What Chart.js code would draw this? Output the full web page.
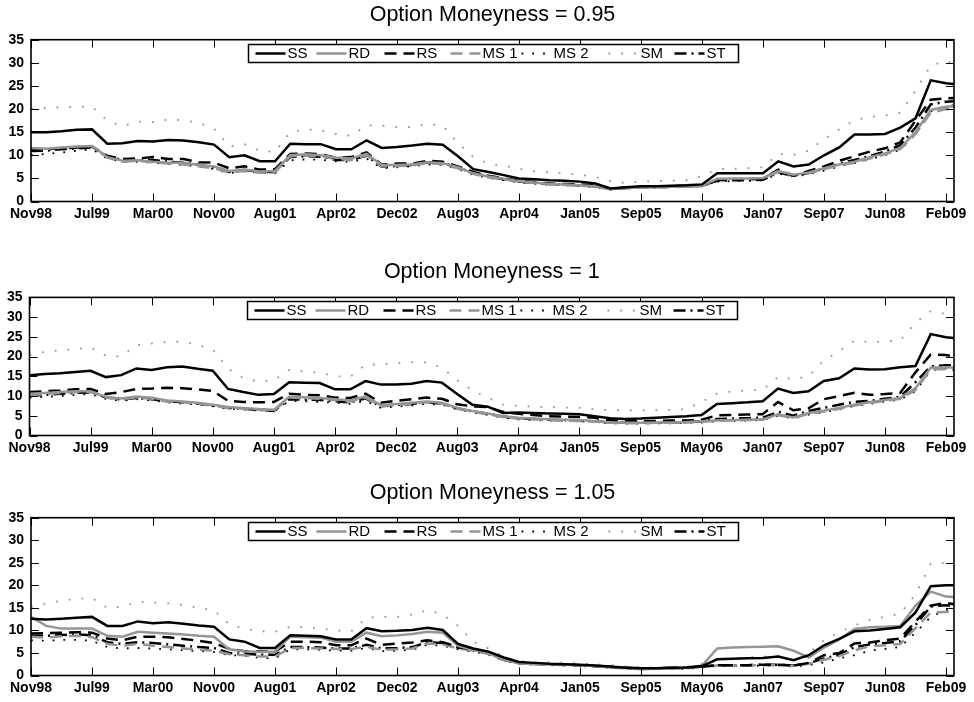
<!DOCTYPE html>
<html>
<head>
<meta charset="utf-8">
<title>Option Moneyness</title>
<script src="https://cdn.jsdelivr.net/npm/chart.js@4/dist/chart.umd.min.js"></script>
<style>
  html, body { margin: 0; padding: 0; background: #fff; }
  body { width: 974px; height: 702px; position: relative; overflow: hidden; }
  canvas { position: absolute; left: 0; }
</style>
</head>
<body>
<canvas id="p1" width="974" height="222" style="top:0px"></canvas>
<canvas id="p2" width="974" height="199" style="top:257px"></canvas>
<canvas id="p3" width="974" height="218" style="top:478px"></canvas>
<script>
// Observation days (trading-day index from Nov98), sampled every two months
const sampleDays = [0,42,84,126,168,210,252,294,336,378,420,462,504,546,588,630,672,714,756,798,
  840,882,924,966,1008,1050,1092,1134,1176,1218,1260,1302,1344,1386,1428,1470,1512,1554,1596,1638,
  1680,1722,1764,1806,1848,1890,1932,1974,2016,2058,2100,2142,2184,2226,2268,2310,2352,2394,2436,2478,
  2520,2542];
const tickDays = [0,168,336,504,672,840,1008,1176,1344,1512,1680,1848,2016,2184,2352,2520];
const tickLabels = ['Nov98','Jul99','Mar00','Nov00','Aug01','Apr02','Dec02','Aug03',
  'Apr04','Jan05','Sep05','May06','Jan07','Sep07','Jun08','Feb09'];
const yTicks = [0,5,10,15,20,25,30,35];
const seriesNames = ['SS','RD','RS','MS 1','MS 2','SM','ST'];

// Moneyness = 0.95
const ss095 = [15.0,15.0,15.2,15.5,15.6, 12.5,12.6,13.1,13.0, 13.3,13.2,12.8,12.3, 9.6,10.0,8.7,8.7, 12.5,12.4,12.4,11.3, 11.3,13.2,11.6,11.8, 12.1,12.5,12.3,9.8, 7.0,6.4,5.7,5.0, 4.8,4.6,4.5,4.3, 3.9,2.8,3.1,3.3, 3.3,3.4,3.5,3.7, 6.1,6.1,6.1,6.1, 8.7,7.6,8.0,10.0, 11.7,14.5,14.5,14.6, 16.0,18.0,26.2,25.6, 25.4];
const rd095 = [11.6,11.4,11.7,11.9,12.0, 9.6,8.8,8.9,8.6, 8.4,8.4,7.9,7.6, 6.6,6.9,6.5,6.6, 10.0,10.2,10.0,9.5, 9.3,10.3,7.9,7.9, 8.0,8.5,8.3,7.4, 6.1,5.4,4.9,4.4, 4.1,3.8,3.7,3.5, 3.3,2.7,2.9,3.1, 3.1,3.2,3.3,3.4, 4.9,5.0,5.0,5.1, 6.6,5.8,6.3,7.2, 8.0,8.6,9.6,10.4, 11.6,15.0,19.8,20.5, 20.6];
const rs095 = [11.2,11.3,11.5,11.7,11.9, 9.9,9.2,9.3,9.6, 9.2,9.2,8.5,8.4, 7.2,7.6,6.9,7.0, 10.3,10.4,10.2,9.5, 9.6,10.6,8.0,8.2, 8.2,8.8,8.6,7.6, 6.4,5.6,5.0,4.5, 4.2,3.9,3.8,3.7, 3.5,2.8,3.0,3.2, 3.2,3.3,3.4,3.5, 4.6,4.7,4.8,4.9, 6.9,5.6,6.6,7.6, 8.8,9.8,10.8,11.5, 12.8,17.5,22.0,22.3, 22.4];
const ms1095 = [11.4,11.3,11.6,11.8,11.9, 9.5,8.6,8.8,8.5, 8.2,8.0,7.6,7.2, 6.3,6.6,6.2,6.3, 9.8,9.9,9.8,9.2, 9.0,10.0,7.6,7.7, 7.8,8.3,8.1,7.2, 6.0,5.2,4.8,4.3, 4.0,3.7,3.6,3.4, 3.2,2.6,2.8,3.0, 3.1,3.1,3.2,3.3, 4.7,4.8,4.9,5.0, 6.4,5.6,6.1,7.0, 7.8,8.4,9.3,10.2, 11.3,14.6,19.2,20.0, 20.1];
const ms2095 = [10.0,10.3,10.6,11.0,11.3, 9.3,8.6,8.6,8.4, 8.1,7.9,7.6,7.0, 6.1,6.6,6.2,6.1, 8.9,9.1,9.0,8.7, 8.6,9.3,7.2,7.4, 7.6,8.0,7.9,7.0, 5.8,5.1,4.6,4.1, 3.9,3.6,3.5,3.3, 3.1,2.5,2.8,3.0, 3.0,3.1,3.2,3.3, 4.3,4.4,4.5,4.6, 6.0,5.4,5.9,6.7, 7.6,8.3,9.1,10.0, 11.2,14.5,19.5,20.6, 20.8];
const sm095 = [20.0,20.2,20.4,20.5,20.5, 17.5,16.3,17.3,17.2, 17.7,17.6,17.0,15.8, 11.9,12.4,11.0,10.7, 15.0,15.6,15.4,14.6, 14.2,16.5,16.4,16.1, 16.1,16.8,16.4,12.6, 9.6,8.2,7.7,7.1, 6.5,6.3,6.1,5.8, 5.3,4.4,4.0,4.3, 4.4,4.5,4.6,5.5, 7.0,7.1,7.2,7.4, 10.3,10.1,11.0,13.5, 15.6,17.6,18.3,18.6, 19.2,24.0,29.4,30.4, 29.8];
const st095 = [10.9,11.0,11.3,11.5,11.7, 9.7,9.0,8.9,9.0, 8.6,8.4,7.9,7.4, 6.4,6.8,6.4,6.4, 9.6,9.8,9.7,9.0, 9.0,9.9,7.5,7.7, 7.9,8.5,8.3,7.3, 6.2,5.4,4.8,4.3, 4.0,3.8,3.7,3.5, 3.3,2.7,2.9,3.1, 3.1,3.2,3.3,3.4, 4.5,4.6,4.6,4.7, 6.3,5.5,6.2,7.1, 8.2,9.0,9.8,10.8, 12.2,16.0,21.0,21.6, 21.7];

// Moneyness = 1
const ss100 = [15.3,15.6,15.8,16.1,16.4, 14.8,15.3,17.0,16.6, 17.3,17.5,16.9,16.4, 11.8,11.0,10.3,10.5, 13.5,13.4,13.3,11.7, 11.7,13.8,12.9,12.9, 13.1,13.8,13.4,10.5, 7.8,7.3,5.7,5.8, 5.7,5.6,5.5,5.4, 4.9,4.4,4.2,4.3, 4.5,4.7,4.9,5.2, 8.0,8.2,8.4,8.7, 11.9,10.8,11.2,13.8, 14.5,17.0,16.7,16.8, 17.3,17.6,25.7,24.9, 24.7];
const rd100 = [10.6,10.8,11.0,11.2,11.2, 9.8,9.4,9.9,9.6, 8.9,8.6,8.3,7.8, 7.2,7.0,6.7,6.5, 9.8,9.7,9.5,9.2, 8.9,9.9,7.7,8.0, 8.3,8.6,8.3,7.0, 6.2,5.6,4.9,4.5, 4.3,4.1,4.0,3.9, 3.6,3.3,3.2,3.2, 3.3,3.3,3.4,3.6, 3.8,3.9,4.0,4.1, 5.4,4.6,5.7,6.3, 7.0,7.8,8.4,9.0, 9.5,12.0,17.2,17.3, 17.2];
const rs100 = [11.0,11.2,11.4,11.7,11.8, 10.5,11.0,11.8,11.9, 12.1,12.0,11.7,11.3, 8.8,8.5,8.4,8.5, 10.6,10.3,10.2,9.6, 9.5,10.6,8.3,8.8, 9.2,9.6,9.3,7.9, 7.4,7.2,6.0,5.5, 5.2,4.9,4.8,4.7, 4.5,3.9,3.7,3.6, 3.7,3.8,3.8,4.0, 5.1,5.2,5.3,5.4, 8.5,6.4,6.9,9.2, 10.0,10.8,10.3,10.5, 10.8,16.0,20.5,20.4, 20.0];
const ms1100 = [10.2,10.5,10.8,11.0,11.0, 9.6,9.2,9.6,9.3, 8.6,8.4,8.1,7.6, 7.0,6.8,6.5,6.3, 9.6,9.5,9.3,9.0, 8.6,9.6,7.5,7.7, 8.1,8.4,8.1,6.8, 6.0,5.4,4.7,4.3, 4.1,3.9,3.8,3.7, 3.5,3.2,3.1,3.1, 3.2,3.2,3.3,3.5, 3.7,3.8,3.9,4.0, 5.2,4.4,5.5,6.1, 6.8,7.6,8.2,8.8, 9.3,11.5,16.8,16.8, 16.6];
const ms2100 = [9.6,9.8,10.0,10.3,10.5, 9.3,8.8,9.2,8.9, 8.4,8.1,7.9,7.4, 6.8,6.6,6.3,6.1, 8.7,8.7,8.5,8.3, 8.0,8.8,7.0,7.3, 7.6,8.0,7.8,6.6, 5.8,5.2,4.5,4.1, 3.9,3.8,3.7,3.6, 3.4,3.1,3.0,3.0, 3.1,3.1,3.2,3.3, 3.6,3.7,3.8,3.9, 5.0,4.3,5.3,5.9, 6.6,7.5,8.0,8.6, 9.1,11.2,16.5,17.0, 17.0];
const sm100 = [20.4,21.2,21.6,21.9,22.3, 20.2,20.0,22.9,23.3, 23.7,23.8,23.0,21.8, 17.0,14.5,13.7,14.0, 16.6,16.2,15.9,15.0, 14.9,17.9,18.1,18.3, 18.6,18.5,17.2,14.0, 11.4,9.6,7.8,7.5, 7.3,7.2,7.1,7.0, 6.7,6.4,6.4,6.4, 6.4,6.5,6.7,8.5, 10.6,11.2,11.4,11.6, 14.8,14.3,15.0,19.0, 21.4,24.0,23.7,23.8, 24.1,28.5,31.5,30.8, 30.5];
const st100 = [10.0,10.3,10.6,10.8,10.9, 9.7,9.1,9.5,9.2, 8.7,8.4,8.1,7.6, 7.0,6.8,6.5,6.2, 9.2,9.1,9.0,8.7, 8.4,9.4,7.4,7.7, 8.0,8.4,8.1,6.9, 6.1,5.5,4.8,4.4, 4.2,4.0,3.9,3.8, 3.6,3.3,3.2,3.2, 3.3,3.3,3.4,3.6, 4.2,4.3,4.4,4.5, 6.0,5.0,6.2,7.0, 7.8,8.5,8.8,9.3, 9.8,13.5,17.5,17.8, 17.8];

// Moneyness = 1.05
const ss105 = [12.6,12.4,12.6,12.8,13.0, 11.0,11.0,12.0,11.6, 11.8,11.5,11.1,10.8, 8.0,7.5,6.1,6.1, 8.9,8.8,8.7,8.0, 8.0,10.5,9.8,9.9, 10.1,10.6,10.1,7.0, 6.0,5.3,4.0,3.0, 2.8,2.6,2.5,2.4, 2.2,2.0,1.7,1.6, 1.6,1.7,1.8,2.1, 3.6,3.7,3.8,3.9, 4.2,3.4,4.5,6.7, 8.1,9.8,10.0,10.3, 10.7,14.0,19.8,20.0, 20.0];
const rd105 = [13.0,11.0,10.4,10.4,10.4, 8.8,8.6,9.7,9.5, 9.3,9.1,8.8,8.6, 5.8,5.4,5.2,5.3, 8.6,8.5,8.4,7.5, 7.5,9.5,8.7,8.9, 9.2,9.7,9.5,6.6, 5.7,4.9,3.5,2.7, 2.5,2.5,2.4,2.3, 2.1,1.9,1.6,1.4, 1.5,1.6,1.7,2.2, 6.0,6.2,6.3,6.4, 6.5,5.5,4.0,6.2, 8.0,10.3,10.7,10.8, 11.0,15.5,18.6,17.5, 17.4];
const rs105 = [9.3,9.4,9.5,9.6,9.5, 8.2,7.8,8.6,8.6, 8.5,8.1,7.7,7.2, 5.9,5.4,5.3,5.3, 7.5,7.5,7.4,6.7, 6.7,8.2,6.8,7.1, 7.3,7.8,7.4,6.3, 5.8,5.0,3.5,2.8, 2.6,2.5,2.4,2.3, 2.1,1.9,1.7,1.6, 1.6,1.7,1.7,2.0, 2.3,2.3,2.3,2.4, 2.4,2.2,2.8,4.5, 5.0,7.1,7.3,7.8, 8.2,12.0,15.5,16.1, 15.8];
const ms1105 = [8.6,8.4,8.7,8.8,8.5, 7.0,6.6,7.0,6.6, 6.3,6.0,5.7,5.5, 4.7,4.5,4.2,4.2, 6.1,6.1,6.0,5.9, 5.9,6.4,5.7,5.8, 6.0,7.1,6.9,6.0, 5.5,4.8,3.4,2.7, 2.5,2.4,2.3,2.2, 2.0,1.8,1.6,1.5, 1.5,1.6,1.6,1.9, 2.2,2.2,2.2,2.3, 2.3,2.1,2.6,3.5, 4.3,5.6,6.5,6.7, 7.0,10.5,14.0,14.1, 14.0];
const ms2105 = [7.8,7.7,7.9,7.9,7.7, 6.3,6.0,6.1,6.0, 5.8,5.6,5.4,5.2, 4.5,4.4,3.9,3.8, 5.8,5.8,5.7,5.5, 5.5,6.1,5.4,5.5, 5.7,6.8,6.6,5.8, 5.3,4.6,3.3,2.6, 2.4,2.3,2.2,2.1, 1.9,1.7,1.5,1.4, 1.4,1.5,1.5,1.8, 2.1,2.1,2.1,2.2, 2.2,2.0,2.3,2.9, 3.8,4.5,5.5,5.9, 6.3,9.5,13.0,14.5, 14.8];
const sm105 = [15.2,16.0,16.6,17.0,17.2, 15.0,15.3,16.3,16.2, 16.0,15.6,15.0,14.5, 11.3,10.4,9.8,9.7, 10.8,10.7,10.4,10.0, 9.8,12.8,13.0,13.0, 13.5,14.5,13.5,11.0, 7.5,6.0,4.2,3.2, 3.0,2.9,2.8,2.7, 2.5,2.3,2.0,1.8, 1.8,1.9,2.0,2.6, 3.6,3.8,4.0,4.2, 4.3,3.5,5.0,7.8, 9.6,11.1,12.3,13.0, 13.7,18.0,24.8,25.0, 25.1];
const st105 = [8.8,8.8,9.0,9.1,8.9, 7.4,7.0,7.4,7.2, 6.9,6.6,6.3,6.1, 5.0,4.8,4.6,4.6, 6.3,6.3,6.2,6.0, 6.0,6.8,6.0,6.1, 6.3,7.4,7.2,6.2, 5.6,4.9,3.5,2.7, 2.6,2.5,2.4,2.3, 2.1,1.9,1.7,1.5, 1.5,1.6,1.7,2.0, 2.3,2.3,2.3,2.4, 2.4,2.2,2.7,3.8, 4.6,6.3,6.9,7.2, 7.6,11.2,15.3,15.6, 15.5];

const FONT = '"Liberation Sans", Arial, Helvetica, sans-serif';
const BLACK = '#000000';
const GREY = '#959595';

// Line appearance per method
const lineStyles = {
  'SS':   { color: BLACK, width: 2.5, dash: [] },
  'RD':   { color: GREY,  width: 2.5, dash: [] },
  'RS':   { color: BLACK, width: 2.5, dash: [12, 7] },
  'MS 1': { color: GREY,  width: 2.5, dash: [12, 7] },
  'MS 2': { color: BLACK, width: 1.8, dash: [1.8, 9] },
  'SM':   { color: GREY,  width: 1.8, dash: [1.8, 11] },
  'ST':   { color: BLACK, width: 2.5, dash: [12, 5, 2, 5] }
};

// Legend entry offsets inside the boxed legend
const legendBox = { width: 490, height: 18, gapTop: 4, sample: 30, entryX: [7, 68, 136, 202, 273, 360, 426] };

const framePlugin = {
  id: 'frameTicksLegend',
  afterDatasetsDraw(chart) {
    const { ctx, chartArea: a, scales } = chart;
    const x = scales.x, y = scales.y;
    ctx.save();
    // inward tick marks on all four sides
    ctx.strokeStyle = BLACK;
    ctx.lineWidth = 1;
    ctx.setLineDash([]);
    ctx.beginPath();
    tickDays.forEach(d => {
      const px = Math.round(x.getPixelForValue(d)) + 0.5;
      ctx.moveTo(px, a.bottom); ctx.lineTo(px, a.bottom - 8);
      ctx.moveTo(px, a.top); ctx.lineTo(px, a.top + 8);
    });
    yTicks.forEach(v => {
      const py = Math.round(y.getPixelForValue(v)) + 0.5;
      ctx.moveTo(a.left, py); ctx.lineTo(a.left + 8, py);
      ctx.moveTo(a.right, py); ctx.lineTo(a.right - 8, py);
    });
    ctx.stroke();
    // plot frame
    ctx.lineWidth = 1.6;
    ctx.strokeRect(a.left, a.top, a.right - a.left, a.bottom - a.top);

    // boxed legend, centred at the top of the plot area
    const bx = Math.round((a.left + a.right) / 2 - legendBox.width / 2) + 0.5;
    const by = Math.round(a.top + legendBox.gapTop) + 0.5;
    ctx.fillStyle = '#ffffff';
    ctx.fillRect(bx, by, legendBox.width, legendBox.height);
    ctx.lineWidth = 1.5;
    ctx.strokeStyle = BLACK;
    ctx.strokeRect(bx, by, legendBox.width, legendBox.height);
    const cy = by + legendBox.height / 2;
    chart.data.datasets.forEach((ds, i) => {
      const sx = bx + legendBox.entryX[i];
      ctx.save();
      ctx.strokeStyle = ds.borderColor;
      ctx.lineWidth = ds.borderWidth;
      ctx.setLineDash(ds.borderDash || []);
      ctx.beginPath();
      ctx.moveTo(sx, cy);
      ctx.lineTo(sx + legendBox.sample, cy);
      ctx.stroke();
      ctx.restore();
      ctx.fillStyle = BLACK;
      ctx.font = '15px ' + FONT;
      ctx.textAlign = 'left';
      ctx.textBaseline = 'middle';
      ctx.fillText(ds.label, sx + legendBox.sample + 2, cy + 0.5);
    });
    ctx.restore();
  }
};

const panels = [
  { id: 'p1', title: 'Option Moneyness = 0.95', data: [ss095, rd095, rs095, ms1095, ms2095, sm095, st095], axisLeft: 31,   titleGap: 11.4 },
  { id: 'p2', title: 'Option Moneyness = 1',    data: [ss100, rd100, rs100, ms1100, ms2100, sm100, st100], axisLeft: 29.5, titleGap: 12.1 },
  { id: 'p3', title: 'Option Moneyness = 1.05', data: [ss105, rd105, rs105, ms1105, ms2105, sm105, st105], axisLeft: 31,   titleGap: 11.4 }
];

panels.forEach(p => {
  const datasets = seriesNames.map((name, i) => {
    const st = lineStyles[name];
    return {
      label: name,
      data: sampleDays.map((d, k) => ({ x: d, y: p.data[i][k] })),
      borderColor: st.color,
      backgroundColor: st.color,
      borderWidth: st.width,
      borderDash: st.dash,
      pointRadius: 0,
      tension: 0,
      fill: false
    };
  });
  new Chart(document.getElementById(p.id), {
    type: 'line',
    data: { datasets },
    options: {
      responsive: false,
      animation: false,
      devicePixelRatio: 1,
      events: [],
      layout: { padding: { left: 0, right: 20, top: 0, bottom: 0 } },
      plugins: {
        legend: { display: false },
        tooltip: { enabled: false },
        title: {
          display: true,
          fullSize: false,
          text: p.title,
          color: BLACK,
          font: { family: FONT, size: 21.5, weight: 'normal' },
          padding: { top: 2.5, bottom: p.titleGap }
        }
      },
      scales: {
        x: {
          type: 'linear',
          min: 0,
          max: 2542,
          grid: { display: false, drawTicks: false },
          border: { display: false },
          afterBuildTicks: s => { s.ticks = tickDays.map(v => ({ value: v })); },
          afterFit: s => { s.height = 20.5; },
          ticks: {
            autoSkip: false,
            maxRotation: 0,
            padding: 4,
            color: BLACK,
            font: { family: FONT, size: 14, weight: 'bold' },
            callback: (v, i) => tickLabels[i]
          }
        },
        y: {
          min: 0,
          max: 35,
          grid: { display: false, drawTicks: false },
          border: { display: false },
          afterBuildTicks: s => { s.ticks = yTicks.map(v => ({ value: v })); },
          afterFit: s => { s.width = p.axisLeft; },
          ticks: {
            autoSkip: false,
            padding: 7,
            color: BLACK,
            font: { family: FONT, size: 14, weight: 'bold' }
          }
        }
      }
    },
    plugins: [framePlugin]
  });
});
</script>
</body>
</html>
